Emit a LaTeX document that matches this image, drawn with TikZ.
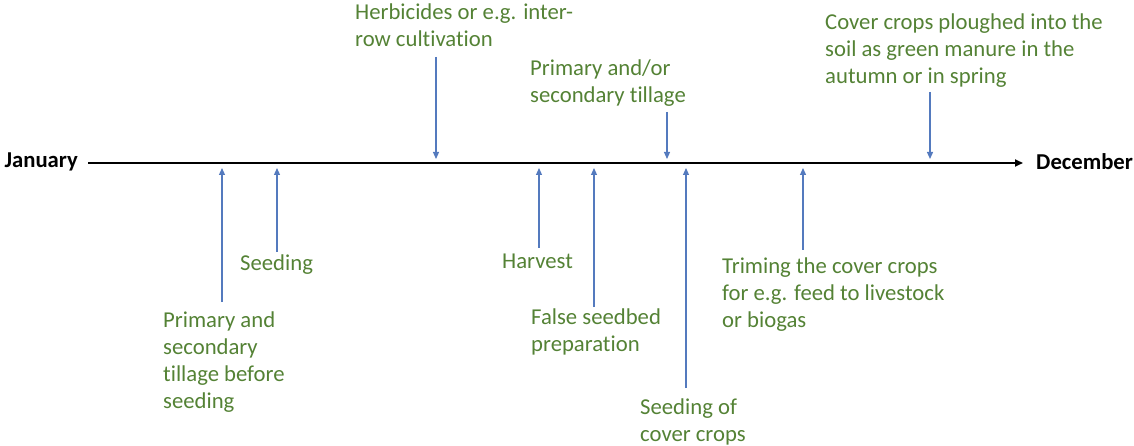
\documentclass[tikz,border=0pt]{standalone}
\usepackage{fontspec}
\setmainfont[Ligatures=NoCommon]{Carlito}
\usetikzlibrary{arrows.meta}
\definecolor{notegreen}{RGB}{84,130,53}
\definecolor{tickblue}{RGB}{84,122,190}
\tikzset{
  every picture/.style={x=1pt, y=-1pt},
  month/.style={font=\fontsize{22.7}{27}\selectfont\bfseries, inner sep=0pt},
  note/.style={font=\fontsize{22.7}{27}\selectfont, text=notegreen, align=left,
    anchor=base west, inner sep=0pt},
  tick/.style={draw=tickblue, line width=1.2pt, -{Triangle[length=7pt,width=6pt]}},
  axis/.style={draw=black, line width=2pt, -{Triangle[length=8pt,width=7pt]}}
}

\begin{document}
\begin{tikzpicture}
    \useasboundingbox (0,0) rectangle (1134,446);
    % the year
    \node[month, anchor=east] (jan) at (78,162) {January};
    \node[month, anchor=west] (dec) at (1036,162) {December};
    \draw[axis] (jan.east) ++(10,1) coordinate (start) -- (1023,163) coordinate (stop);
    % labels below the line (placed by the baseline of their last line)
    \node[note] (prim) at (163,408) {Primary and\\secondary\\tillage before\\seeding};
    \node[note] (seed) at (240,270) {Seeding};
    \node[note] (harv) at (502,268) {Harvest};
    \node[note] (fals) at (531,351) {False seedbed\\preparation};
    \node[note] (scov) at (640,441) {Seeding of\\cover crops};
    \node[note] (trim) at (722,327) {Triming the cover crops\\for e.g. feed to livestock\\or biogas};
    % labels above the line
    \node[note] (herb) at (355,47) {Herbicides or e.g. inter-\\row cultivation};
    \node[note] (prsc) at (530,103) {Primary and/or\\secondary tillage};
    \node[note] (cplo) at (825,84) {Cover crops ploughed into the\\soil as green manure in the\\autumn or in spring};
    % arrow ends
    \coordinate (prim-a) at (222,302);
    \coordinate (seed-a) at (277,252);
    \coordinate (harv-a) at (539,248);
    \coordinate (fals-a) at (594,307);
    \coordinate (scov-a) at (686,388);
    \coordinate (trim-a) at (803,250);
    \coordinate (herb-a) at (436,57);
    \coordinate (prsc-a) at (667,112);
    \coordinate (cplo-a) at (930,92);
    \foreach \n in {prim,seed,harv,fals,scov,trim} {
      \draw[tick] (\n-a) -- (\n-a |- 0,168);
    }
    \foreach \n in {herb,prsc,cplo} {
      \draw[tick] (\n-a) -- (\n-a |- 0,159);
    }
  \end{tikzpicture}
\end{document}
